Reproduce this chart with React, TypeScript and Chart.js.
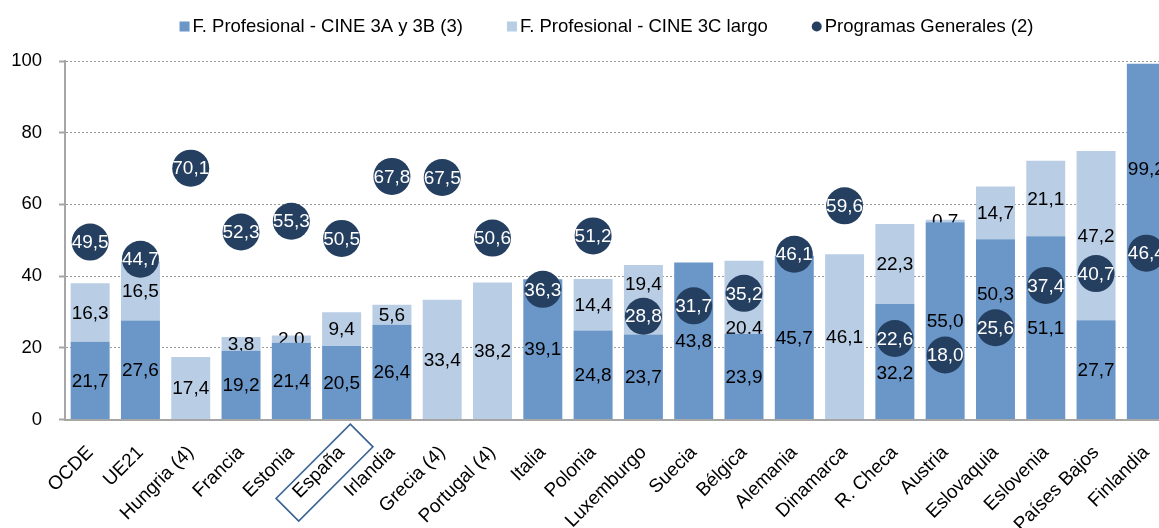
import React, { useEffect, useRef } from "react";
import { Chart, registerables } from "chart.js";

Chart.register(...registerables);

// ---- Data ----
const categories = [
  "OCDE", "UE21", "Hungria (4)", "Francia", "Estonia", "España", "Irlandia",
  "Grecia (4)", "Portugal (4)", "Italia", "Polonia", "Luxemburgo", "Suecia",
  "Bélgica", "Alemania", "Dinamarca", "R. Checa", "Austria", "Eslovaquia",
  "Eslovenia", "Países Bajos", "Finlandia",
];
const fp3A3B: (number | null)[] = [
  21.7, 27.6, null, 19.2, 21.4, 20.5, 26.4, null, null, 39.1, 24.8, 23.7, 43.8,
  23.9, 45.7, null, 32.2, 55.0, 50.3, 51.1, 27.7, 99.2,
];
const fp3CLargo: (number | null)[] = [
  16.3, 16.5, 17.4, 3.8, 2.0, 9.4, 5.6, 33.4, 38.2, null, 14.4, 19.4, null,
  20.4, null, 46.1, 22.3, 0.7, 14.7, 21.1, 47.2, null,
];
const programasGenerales: number[] = [
  49.5, 44.7, 70.1, 52.3, 55.3, 50.5, 67.8, 67.5, 50.6, 36.3, 51.2, 28.8, 31.7,
  35.2, 46.1, 59.6, 22.6, 18.0, 25.6, 37.4, 40.7, 46.4,
];
const seriesNames = [
  "F. Profesional - CINE 3A y 3B (3)",
  "F. Profesional - CINE 3C largo",
  "Programas Generales (2)",
];
const yTickValues = [0, 20, 40, 60, 80, 100];
const highlightedCategory = "España";

// ---- Styles ----
const FONT_FAMILY = '"Liberation Sans", Arial, Helvetica, sans-serif';
const AXIS_FONT = 18.5;
const XLABEL_FONT = 19;
const VALUE_FONT = 19;
const LEGEND_FONT = 18.5;
const COLOR_DARK = "#6a96c8";
const COLOR_LIGHT = "#b9cde5";
const COLOR_NAVY = "#243f60";
const COLOR_AXIS = "#a6a6a6";
const COLOR_GRID = "#9a9a9a";
const POINT_R = 18.5;

const fmt = (v: number) => v.toFixed(1).replace(".", ",");

const labelsPlugin = {
  id: "valueLabels",
  afterDatasetDraw(chart: any, args: any) {
    const ctx = chart.ctx;
    const idx = args.index;
    const ds = chart.data.datasets[idx];
    const meta = chart.getDatasetMeta(idx);
    ctx.save();
    ctx.font = `${VALUE_FONT}px ${FONT_FAMILY}`;
    ctx.textAlign = "center";
    ctx.textBaseline = "middle";
    if (ds.type === "line") {
      ctx.fillStyle = "#ffffff";
      meta.data.forEach((pt: any, i: number) => {
        const v = ds.data[i];
        if (v == null) return;
        ctx.fillText(fmt(v), pt.x, pt.y + 1);
      });
    } else {
      const ptMeta = chart.getDatasetMeta(2);
      ctx.fillStyle = "#000000";
      meta.data.forEach((bar: any, i: number) => {
        const v = ds.data[i];
        if (v == null || v === 0) return;
        const top = Math.min(bar.y, bar.base);
        const bottom = Math.max(bar.y, bar.base);
        let ly = (top + bottom) / 2;
        const pt = ptMeta.data[i];
        if (pt) {
          const cy = pt.y;
          if (cy > top && cy < bottom && Math.abs(ly - cy) < 30) {
            const up = cy - 32;
            if (up - 9 >= top) {
              ly = Math.min(up, (top + cy - POINT_R) / 2 + 20);
            } else {
              ly = cy + 34;
            }
          }
        }
        ctx.fillText(fmt(v), bar.x, ly + 1);
      });
    }
    ctx.restore();
  },
  afterDraw(chart: any) {
    const ctx = chart.ctx;
    // Highlight box around the highlighted category label
    const xScale = chart.scales.x;
    const hi = categories.indexOf(highlightedCategory);
    if (hi >= 0) {
      const tx = xScale.getPixelForValue(hi);
      const ay = chart.chartArea.bottom;
      const mx = tx + 20;
      const my = ay + 16;
      const u = [Math.SQRT1_2, -Math.SQRT1_2];
      const v = [Math.SQRT1_2, Math.SQRT1_2];
      const L = 105;
      const h = 16;
      const p1 = [mx - h * v[0], my - h * v[1]];
      const p2 = [mx + h * v[0], my + h * v[1]];
      const p3 = [p2[0] - L * u[0], p2[1] - L * u[1]];
      const p4 = [p1[0] - L * u[0], p1[1] - L * u[1]];
      ctx.save();
      ctx.strokeStyle = "#3a6294";
      ctx.lineWidth = 1.6;
      ctx.beginPath();
      ctx.moveTo(p1[0], p1[1]);
      ctx.lineTo(p2[0], p2[1]);
      ctx.lineTo(p3[0], p3[1]);
      ctx.lineTo(p4[0], p4[1]);
      ctx.closePath();
      ctx.stroke();
      ctx.restore();
    }
    // Legend
    ctx.save();
    ctx.font = `${LEGEND_FONT}px ${FONT_FAMILY}`;
    ctx.textBaseline = "middle";
    ctx.textAlign = "left";
    const markers = [
      { color: COLOR_DARK, shape: "box" },
      { color: COLOR_LIGHT, shape: "box" },
      { color: COLOR_NAVY, shape: "circle" },
    ];
    const gap = 44;
    const widths = seriesNames.map((n) => ctx.measureText(n).width);
    const total =
      widths.reduce((a, b) => a + b, 0) + seriesNames.length * 13 + gap * (seriesNames.length - 1);
    let x = 606.5 - total / 2;
    const cy = 26.5;
    seriesNames.forEach((name, i) => {
      ctx.fillStyle = markers[i].color;
      if (markers[i].shape === "box") {
        ctx.fillRect(x, cy - 5, 10, 10);
      } else {
        ctx.beginPath();
        ctx.arc(x + 5, cy, 5, 0, Math.PI * 2);
        ctx.fill();
      }
      ctx.fillStyle = "#000000";
      ctx.fillText(name, x + 13, cy);
      x += 13 + widths[i] + gap;
    });
    ctx.restore();
  },
};

const CANVAS_W = 1190;
const CANVAS_H = 528;

export default function App() {
  const ref = useRef<HTMLCanvasElement | null>(null);

  useEffect(() => {
    if (!ref.current) return;
    const chart = new Chart(ref.current, {
      type: "bar",
      data: {
        labels: categories,
        datasets: [
          {
            type: "bar",
            label: seriesNames[0],
            data: fp3A3B,
            backgroundColor: COLOR_DARK,
            borderWidth: 0,
            categoryPercentage: 1,
            barPercentage: 0.775,
            order: 2,
            stack: "fp",
          },
          {
            type: "bar",
            label: seriesNames[1],
            data: fp3CLargo,
            backgroundColor: COLOR_LIGHT,
            borderWidth: 0,
            categoryPercentage: 1,
            barPercentage: 0.775,
            order: 2,
            stack: "fp",
          },
          {
            type: "line",
            label: seriesNames[2],
            data: programasGenerales,
            showLine: false,
            pointRadius: POINT_R,
            pointHoverRadius: POINT_R,
            pointBackgroundColor: COLOR_NAVY,
            pointBorderColor: COLOR_NAVY,
            pointBorderWidth: 0,
            order: 1,
            stack: "pts",
            clip: false,
          } as any,
        ],
      },
      options: {
        animation: false,
        responsive: false,
        devicePixelRatio: 1,
        events: [],
        layout: { padding: { top: 61, right: CANVAS_W - 1173.4, left: 0, bottom: 0 } },
        plugins: {
          legend: { display: false },
          tooltip: { enabled: false },
        },
        scales: {
          x: {
            stacked: true,
            offset: true,
            grid: { display: false, drawTicks: false },
            border: { display: true, color: COLOR_AXIS, width: 2 },
            ticks: {
              font: { family: FONT_FAMILY, size: XLABEL_FONT },
              color: "#000000",
              minRotation: 45,
              maxRotation: 45,
              autoSkip: false,
              padding: 22,
            },
            afterFit: (s: any) => {
              s.height = CANVAS_H - 419.5;
            },
          },
          y: {
            stacked: true,
            min: 0,
            max: 100,
            afterBuildTicks: (s: any) => {
              s.ticks = yTickValues.map((value) => ({ value }));
            },
            ticks: {
              font: { family: FONT_FAMILY, size: AXIS_FONT },
              color: "#000000",
              padding: 17,
              callback: (v: any) => String(v),
            },
            grid: {
              color: COLOR_GRID,
              lineWidth: 1,
              tickLength: 6,
              tickColor: COLOR_AXIS,
              tickWidth: 2,
              drawTicks: true,
            },
            border: { display: true, color: COLOR_AXIS, width: 2, dash: [2, 2] },
            afterFit: (s: any) => {
              s.width = 65;
            },
          },
        },
      },
      plugins: [labelsPlugin],
    } as any);
    return () => chart.destroy();
  }, []);

  return (
    <div
      style={{
        position: "fixed",
        left: 0,
        top: 0,
        width: 1159,
        height: 528,
        overflow: "hidden",
        background: "#ffffff",
      }}
    >
      <canvas
        ref={ref}
        width={CANVAS_W}
        height={CANVAS_H}
        style={{ display: "block", width: CANVAS_W, height: CANVAS_H }}
      />
    </div>
  );
}
